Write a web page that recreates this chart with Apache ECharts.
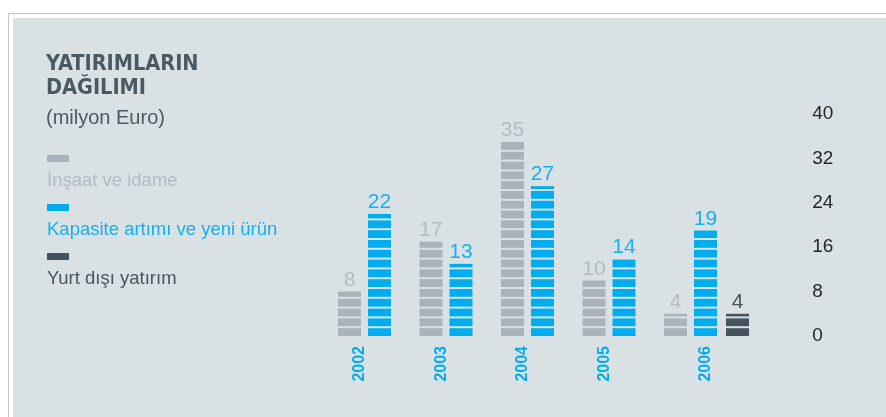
<!DOCTYPE html>
<html>
<head>
<meta charset="utf-8">
<script src="https://cdn.jsdelivr.net/npm/echarts@6/dist/echarts.min.js"></script>
<style>
html,body{margin:0;padding:0;background:#fff;width:886px;height:417px;overflow:hidden;position:relative}
#frame{position:absolute;left:8px;top:13px;width:900px;height:500px;border:1px solid #bcc6ce;box-sizing:border-box}
#panel{position:absolute;left:13px;top:18px;width:900px;height:500px;background:#dae1e5}
#chart{position:absolute;left:0;top:0;width:886px;height:417px}
</style>
</head>
<body>
<div id="frame"></div>
<div id="panel"></div>
<div id="chart"></div>
<script>
var categories = ['2002', '2003', '2004', '2005', '2006'];
var seriesNames = ['İnşaat ve idame', 'Kapasite artımı ve yeni ürün', 'Yurt dışı yatırım'];
var insaatValues = [8, 17, 35, 10, 4];
var kapasiteValues = [22, 13, 27, 14, 19];
var yurtdisiValues = [null, null, null, null, 4];
var yTicks = [0, 8, 16, 24, 32, 40];

var BAR_COLORS = ['#a8b3bb', '#00aeef', '#44535e'];
var LABEL_COLORS = ['#b3bcc3', '#13b1ee', '#47555f'];
var OFFSETS = [-30, 0, 32];
var BW = 23, PITCH = 9.8, GAP = 2;
var FONT = "'Liberation Sans', Arial, sans-serif";
var NARROW = "'Liberation Sans Narrow', 'Arial Narrow', 'DejaVu Sans Condensed', sans-serif";

function makeRender(idx) {
  return function (params, api) {
    var ci = api.value(0), v = api.value(1);
    var base = api.coord([ci, 0]);
    var top = api.coord([ci, v]);
    var cx = base[0] + OFFSETS[idx];
    var x0 = cx - BW / 2;
    var children = [];
    for (var k = 0; k < 200; k++) {
      var yb = base[1] - k * PITCH;
      if (yb <= top[1] + 0.01) break;
      var yt = yb - (PITCH - GAP);
      if (yt < top[1]) yt = top[1];
      children.push({type: 'rect', shape: {x: x0, y: yt, width: BW, height: yb - yt}, style: {fill: BAR_COLORS[idx]}});
    }
    children.push({type: 'text', x: cx, y: top[1] - 1,
      style: {text: String(v), fill: LABEL_COLORS[idx], fontSize: 21, fontFamily: FONT, align: 'center', verticalAlign: 'bottom'}});
    return {type: 'group', children: children};
  };
}

function toData(values) {
  var out = [];
  values.forEach(function (v, i) { if (v != null) out.push([i, v]); });
  return out;
}

var allValues = [insaatValues, kapasiteValues, yurtdisiValues];
var series = allValues.map(function (vals, i) {
  return {type: 'custom', name: seriesNames[i], data: toData(vals), encode: {x: 0, y: 1}, renderItem: makeRender(i), clip: false, silent: true};
});

var graphic = [];
seriesNames.forEach(function (n, i) {
  graphic.push({type: 'rect', x: 47, y: 155 + 49 * i, shape: {x: 0, y: 0, width: 22, height: 7}, style: {fill: BAR_COLORS[i]}});
  graphic.push({type: 'text', x: 47, y: 181 + 49 * i, style: {text: n, fill: LABEL_COLORS[i], fontSize: 18.5, fontFamily: FONT, verticalAlign: 'middle'}});
});

var yearStyle = {color: '#00aeef', fontWeight: 'bold', fontSize: 16, fontFamily: FONT};

var chart = echarts.init(document.getElementById('chart'), null, {renderer: 'canvas'});
chart.setOption({
  backgroundColor: 'transparent',
  animation: false,
  title: {
    text: 'YATIRIMLARIN\nDAĞILIMI',
    subtext: '(milyon Euro)',
    left: 46, top: 53, padding: 0,
    itemGap: 8,
    textStyle: {fontFamily: NARROW, fontWeight: 'bold', fontSize: 21.5, lineHeight: 23.5, color: '#4b5963'},
    subtextStyle: {fontFamily: FONT, fontSize: 20, color: '#4b5963'}
  },
  grid: {left: 338.75, right: 139.75, top: 114, bottom: 81, containLabel: false},
  xAxis: {
    type: 'category', data: categories,
    axisLine: {show: false}, axisTick: {show: false}, splitLine: {show: false},
    axisLabel: {
      interval: 0, rotate: 90, margin: 10,
      color: '#00aeef', fontWeight: 'bold', fontSize: 16, fontFamily: FONT,
      formatter: function (v, i) { return (yurtdisiValues[i] == null ? '{s|' : '{c|') + v + '}'; },
      rich: {
        s: Object.assign({padding: [0, 0, 39, 0]}, yearStyle),
        c: Object.assign({}, yearStyle)
      }
    }
  },
  yAxis: {
    type: 'value', position: 'right', min: yTicks[0], max: yTicks[yTicks.length - 1], interval: yTicks[1] - yTicks[0],
    axisLine: {show: false}, axisTick: {show: false}, splitLine: {show: false},
    axisLabel: {align: 'left', margin: 66, color: '#262626', fontSize: 19, fontFamily: FONT, padding: [0, 0, 5, 0]}
  },
  graphic: graphic,
  series: series
});
</script>
</body>
</html>
